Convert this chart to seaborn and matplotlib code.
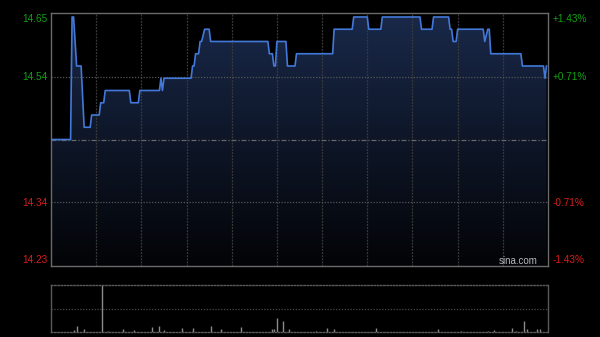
import numpy as np
import pandas as pd
import matplotlib
matplotlib.use("Agg")
import matplotlib.pyplot as plt
import seaborn as sns

# ---------------- data ----------------
prev_close = 14.44
price_minute = [0, 13, 14, 15, 17, 20, 22, 26, 27, 32, 33, 35, 36, 52, 53, 58, 59, 72, 73, 74,
                75, 93, 94, 95, 96, 98, 99, 100, 102, 105, 106, 144, 145, 147, 148, 149, 150,
                156, 157, 162, 163, 187, 188, 200, 201, 210, 211, 219, 220, 245, 246, 253, 254,
                264, 265, 266, 267, 269, 270, 287, 288, 290, 291, 292, 312, 313, 327, 328, 329]
price = [14.44, 14.44, 14.64, 14.64, 14.56, 14.56, 14.46, 14.46, 14.48, 14.48, 14.50, 14.50,
         14.52, 14.52, 14.50, 14.50, 14.52, 14.52, 14.54, 14.52, 14.54, 14.54, 14.56, 14.56,
         14.58, 14.58, 14.60, 14.60, 14.62, 14.62, 14.60, 14.60, 14.58, 14.58, 14.56, 14.56,
         14.60, 14.60, 14.56, 14.56, 14.58, 14.58, 14.62, 14.62, 14.64, 14.64, 14.62, 14.62,
         14.64, 14.64, 14.62, 14.62, 14.64, 14.64, 14.62, 14.62, 14.60, 14.60, 14.62, 14.62,
         14.60, 14.62, 14.62, 14.58, 14.58, 14.56, 14.56, 14.54, 14.56]

vol_minute = [15, 17, 22, 34, 38, 48, 55, 67, 72, 75, 87, 94, 106, 113, 126, 147, 148, 150,
              154, 158, 176, 183, 188, 216, 257, 272, 290, 294, 306, 309, 314, 316, 323, 325]
volume = [2.5, 6, 3, 47, 1.5, 3, 2, 5.5, 6, 2, 3.7, 3.7, 6, 3, 5.5, 3, 3, 14,
          11, 3, 1.5, 4, 3.5, 4.5, 3.5, 1, 1.5, 2, 4.5, 1.5, 11, 3, 3.5, 3]

left_labels = ["14.65", "14.54", "14.34", "14.23"]
right_labels = ["+1.43%", "+0.71%", "-0.71%", "-1.43%"]
label_colors = ["#12a012", "#12a012", "#d81c1c", "#d81c1c"]

# ---------------- figure ----------------
W, H = 600, 337
fig = plt.figure(figsize=(W / 100, H / 100), dpi=100, facecolor="black")
plt.rcParams["font.family"] = ["Liberation Sans", "DejaVu Sans"]

ax = fig.add_axes([51 / W, (H - 266) / H, 497 / W, 253 / H])
ax.set_facecolor("black")
lo, hi = prev_close * (1 - 0.0143), prev_close * (1 + 0.0143)

df = pd.DataFrame({"minute": price_minute, "price": price})

# gradient fill under the line
fill = ax.fill_between(df["minute"], df["price"], lo, color="none", lw=0)
g = np.linspace(1, 0, 256)[:, None, None]
top = np.array([0.10, 0.16, 0.29])
bot = np.array([0.01, 0.015, 0.025])
img = g * top + (1 - g) * bot
im = ax.imshow(img, extent=[0, 330, lo, hi], aspect="auto", origin="upper", zorder=1)
im.set_clip_path(fill.get_paths()[0], transform=ax.transData)

# grid
for m in range(30, 330, 30):
    ax.axvline(m, color="#3a3a3a", lw=0.9, ls=(0, (1.5, 1)), zorder=2)
for f in (0.0071, -0.0071):
    ax.axhline(prev_close * (1 + f), color="#555555", lw=0.9, ls=(0, (1, 1.3)), zorder=2)
ax.axhline(prev_close, color="#666666", lw=0.9, ls=(0, (4, 1.5, 1, 1.5)), zorder=2)

sns.lineplot(data=df, x="minute", y="price", ax=ax, color="#4279d8", lw=1.2, zorder=4)

ax.set_xlim(0, 330)
ax.set_ylim(lo, hi)
ax.set_xticks([])
ax.set_yticks([])
ax.set_xlabel("")
ax.set_ylabel("")
for s in ax.spines.values():
    s.set_color("#6a6a6a")
    s.set_linewidth(1.0)

# labels
ys = [19, 77, 202.5, 260]
for lab, rl, c, y in zip(left_labels, right_labels, label_colors, ys):
    fig.text(48 / W, 1 - y / H, lab, color=c, fontsize=7.2, ha="right", va="center")
    fig.text(553 / W, 1 - y / H, rl, color=c, fontsize=7.2, ha="left", va="center")
fig.text(518 / W, 1 - 261 / H, "sina.com", color="#b8b8b8", fontsize=7, ha="center", va="center")

# ---------------- volume panel ----------------
vax = fig.add_axes([51 / W, (H - 332) / H, 497 / W, 47 / H])
vax.set_facecolor("black")
vax.vlines(vol_minute, 0, volume, color="#8a8a8a", lw=1.0)
vax.axhline(23.5, color="#4a4a4a", lw=0.9, ls=(0, (1, 1.3)))
vax.set_xlim(0, 330)
vax.set_ylim(0, 47)
vax.set_xticks([])
vax.set_yticks([])
for name, s in vax.spines.items():
    s.set_color("#5a5a5a")
    s.set_linewidth(1.0)
    if name in ("top", "bottom"):
        s.set_linestyle((0, (1, 1.3)))

fig.savefig("out.png", dpi=100, facecolor="black")
